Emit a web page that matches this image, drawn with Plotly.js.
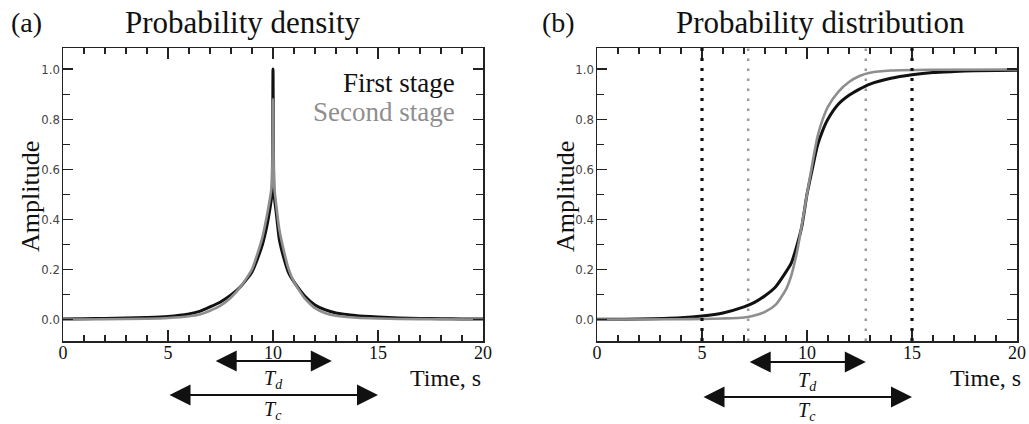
<!DOCTYPE html>
<html>
<head>
<meta charset="utf-8">
<script src="https://cdn.plot.ly/plotly-3.0.1.min.js"></script>
<style>html,body{margin:0;padding:0;background:#fff;}#chart{width:1029px;height:424px;}</style>
</head>
<body>
<div id="chart"></div>
<script>
// ---- Data ----
// (a) Probability density
const densFirstX  = [0, 1, 2, 3, 4, 5, 6, 6.5, 7, 7.5, 8, 8.5, 9, 9.25, 9.5, 9.7, 9.85, 9.95, 10, 10.05, 10.15, 10.3, 10.5, 10.75, 11, 11.5, 12, 12.5, 13, 13.5, 14, 15, 16, 17, 18, 19, 20];
const densFirstY  = [0.002, 0.003, 0.004, 0.006, 0.008, 0.012, 0.022, 0.032, 0.05, 0.07, 0.098, 0.135, 0.19, 0.24, 0.3, 0.37, 0.44, 0.5, 1.0, 0.5, 0.43, 0.32, 0.25, 0.185, 0.15, 0.095, 0.058, 0.038, 0.026, 0.02, 0.015, 0.01, 0.006, 0.004, 0.003, 0.002, 0.002];
const densSecondX = [0, 2, 4, 5, 6, 6.5, 7, 7.5, 8, 8.5, 9, 9.25, 9.5, 9.7, 9.85, 9.95, 10, 10.05, 10.15, 10.3, 10.5, 10.75, 11, 11.5, 12, 12.5, 13, 14, 15, 16, 18, 20];
const densSecondY = [0.0, 0.001, 0.003, 0.006, 0.013, 0.02, 0.035, 0.055, 0.088, 0.135, 0.2, 0.26, 0.33, 0.41, 0.48, 0.54, 0.88, 0.54, 0.46, 0.36, 0.28, 0.2, 0.15, 0.085, 0.045, 0.025, 0.015, 0.007, 0.004, 0.002, 0.001, 0.0];

// (b) Probability distribution
const cdfFirstX  = [0, 2, 4, 5, 6, 7, 7.5, 8, 8.5, 9, 9.25, 9.5, 9.75, 10, 10.25, 10.5, 10.75, 11, 11.5, 12, 12.5, 13, 14, 15, 16, 17, 18, 20];
const cdfFirstY  = [0.001, 0.002, 0.007, 0.014, 0.026, 0.05, 0.068, 0.095, 0.13, 0.19, 0.225, 0.29, 0.37, 0.5, 0.6, 0.695, 0.755, 0.8, 0.86, 0.895, 0.92, 0.94, 0.963, 0.977, 0.986, 0.99, 0.993, 0.995];
const cdfSecondX = [0, 4, 5, 6, 7, 7.5, 8, 8.5, 9, 9.25, 9.5, 9.75, 10, 10.25, 10.5, 10.75, 11, 11.5, 12, 12.5, 13, 14, 16, 20];
const cdfSecondY = [0.0, 0.001, 0.002, 0.004, 0.008, 0.016, 0.03, 0.058, 0.12, 0.175, 0.26, 0.375, 0.5, 0.62, 0.73, 0.8, 0.85, 0.91, 0.948, 0.972, 0.985, 0.994, 0.997, 0.998];

// Interval markers
const Td = [7.2, 12.8];
const Tc = [5.0, 15.0];
const seriesNames = ["First stage", "Second stage"];

// ---- Layout helpers ----
const W = 1029, H = 424;
const px = v => v / W;
const py = v => 1 - v / H;
const serif = "Liberation Serif, Times New Roman, serif";
const narrow = "Liberation Sans Narrow, DejaVu Sans Condensed, Arial Narrow, sans-serif";
const BLACK = "#111111", GRAY = "#8e8e8e";
const XR = [0, 20], YR = [-0.086, 1.084];

const traces = [
  {x: densFirstX, y: densFirstY, xaxis: "x", yaxis: "y", mode: "lines", name: seriesNames[0], line: {color: BLACK, width: 3, shape: "spline", smoothing: 0.5}},
  {x: densSecondX, y: densSecondY, xaxis: "x", yaxis: "y", mode: "lines", name: seriesNames[1], line: {color: GRAY, width: 2.6, shape: "spline", smoothing: 0.5}},
  {x: cdfFirstX, y: cdfFirstY, xaxis: "x2", yaxis: "y2", mode: "lines", name: seriesNames[0], line: {color: BLACK, width: 3, shape: "spline", smoothing: 0.6}},
  {x: cdfSecondX, y: cdfSecondY, xaxis: "x2", yaxis: "y2", mode: "lines", name: seriesNames[1], line: {color: GRAY, width: 2.6, shape: "spline", smoothing: 0.6}},
  // empty traces so the top/right minor-tick overlay axes are drawn
  {x: [], y: [], xaxis: "x3", yaxis: "y3", mode: "lines", hoverinfo: "skip"},
  {x: [], y: [], xaxis: "x4", yaxis: "y4", mode: "lines", hoverinfo: "skip"}
];

function xAxis(domain, anchor) {
  return {
    domain: domain, anchor: anchor, range: XR, tickmode: "linear", tick0: 0, dtick: 5,
    ticks: "inside", ticklen: 11, tickwidth: 1.3, tickcolor: "#222",
    minor: {dtick: 1, tick0: 0, ticks: "inside", ticklen: 6, tickwidth: 1.1, tickcolor: "#222", showgrid: false},
    showline: true, linecolor: "#222", linewidth: 1.5, mirror: "allticks",
    showgrid: false, zeroline: false, ticklabelstandoff: -5,
    tickfont: {family: serif, size: 18, color: "#111"}
  };
}
function yAxis(anchor) {
  return {
    anchor: anchor, domain: [py(341), py(48)], range: YR,
    tickmode: "linear", tick0: 0, dtick: 0.2, tickformat: ".1f",
    ticks: "inside", ticklen: 10, tickwidth: 1.2, tickcolor: "#222",
    minor: {dtick: 0.1, tick0: 0, ticks: "inside", ticklen: 7, tickwidth: 1.1, tickcolor: "#222", showgrid: false},
    showline: true, linecolor: "#222", linewidth: 1.5, mirror: "allticks",
    showgrid: false, zeroline: false, ticklabelstandoff: -1,
    tickfont: {family: narrow, size: 13, color: "#444"}
  };
}
function topMinor(over, anchor) {
  return {overlaying: over, anchor: anchor, side: "top", range: XR, tickmode: "linear", tick0: 0, dtick: 1,
    ticks: "inside", ticklen: 6, tickwidth: 1.1, tickcolor: "#222", showticklabels: false,
    showline: false, showgrid: false, zeroline: false};
}
function rightMinor(over, anchor) {
  return {overlaying: over, anchor: anchor, side: "right", range: YR, tickmode: "linear", tick0: 0, dtick: 0.1,
    ticks: "inside", ticklen: 7, tickwidth: 1.1, tickcolor: "#222", showticklabels: false,
    showline: false, showgrid: false, zeroline: false};
}

const ann = [];
function text(t, x, y, size, opts) {
  ann.push(Object.assign({xref: "paper", yref: "paper", x: px(x), y: py(y), text: t, showarrow: false,
    xanchor: "center", yanchor: "middle", font: {family: serif, size: size, color: BLACK}}, opts || {}));
}
// Titles
text("(a)", 26, 22, 28);
text("Probability density", 243, 22, 31);
text("(b)", 558, 22, 28);
text("Probability distribution", 820, 22, 31);
// Y titles
text("Amplitude", 31, 197, 26, {textangle: -90});
text("Amplitude", 566, 197, 26, {textangle: -90});
// X titles
text("Time, s", 483, 378, 24, {xanchor: "right"});
text("Time, s", 1023, 378, 24, {xanchor: "right"});
// Legend (panel a)
text(seriesNames[0], 457, 83, 27, {xanchor: "right"});
text(seriesNames[1], 457, 112, 27, {xanchor: "right", font: {family: serif, size: 27, color: GRAY}});

// Double arrows
function dblArrow(xref, range, yPix) {
  ann.push({xref: xref, yref: "paper", x: range[1], y: py(yPix), axref: xref, ayref: "pixel", ax: range[0], ay: 0,
    text: "", showarrow: true, arrowside: "end+start", arrowhead: 2, startarrowhead: 2,
    arrowsize: 2.1, startarrowsize: 2.1, arrowwidth: 2, arrowcolor: BLACK, standoff: 0, startstandoff: 0});
}
function label(xref, range, yPix, sub) {
  ann.push({xref: xref, yref: "paper", x: (range[0] + range[1]) / 2, y: py(yPix), showarrow: false,
    text: "<i>T</i><sub><i>" + sub + "</i></sub>", xanchor: "center", yanchor: "middle",
    font: {family: serif, size: 20, color: BLACK}});
}
dblArrow("x", Td, 361); label("x", Td, 379, "d");
dblArrow("x", Tc, 395); label("x", Tc, 410, "c");
dblArrow("x2", Td, 362); label("x2", Td, 381, "d");
dblArrow("x2", Tc, 397); label("x2", Tc, 411, "c");

// Vertical dotted bounds in panel b
const shapes = [];
Tc.forEach(v => shapes.push({type: "line", xref: "x2", yref: "y2 domain", x0: v, x1: v, y0: 0, y1: 1,
  line: {color: BLACK, width: 3.2, dash: "3px,7px"}}));
Td.forEach(v => shapes.push({type: "line", xref: "x2", yref: "y2 domain", x0: v, x1: v, y0: 0, y1: 1,
  line: {color: "#9a9a9a", width: 2.5, dash: "2.5px,7.5px"}}));

const layout = {
  width: W, height: H, margin: {l: 0, r: 0, t: 0, b: 0},
  paper_bgcolor: "#fff", plot_bgcolor: "#fff", showlegend: false,
  xaxis: xAxis([px(63), px(483)], "y"), yaxis: yAxis("x"),
  xaxis2: xAxis([px(597), px(1017)], "y2"), yaxis2: yAxis("x2"),
  xaxis3: topMinor("x", "y"), yaxis3: rightMinor("y", "x"),
  xaxis4: topMinor("x2", "y2"), yaxis4: rightMinor("y2", "x2"),
  annotations: ann, shapes: shapes
};

Plotly.newPlot("chart", traces, layout, {staticPlot: true, displayModeBar: false});
</script>
</body>
</html>
